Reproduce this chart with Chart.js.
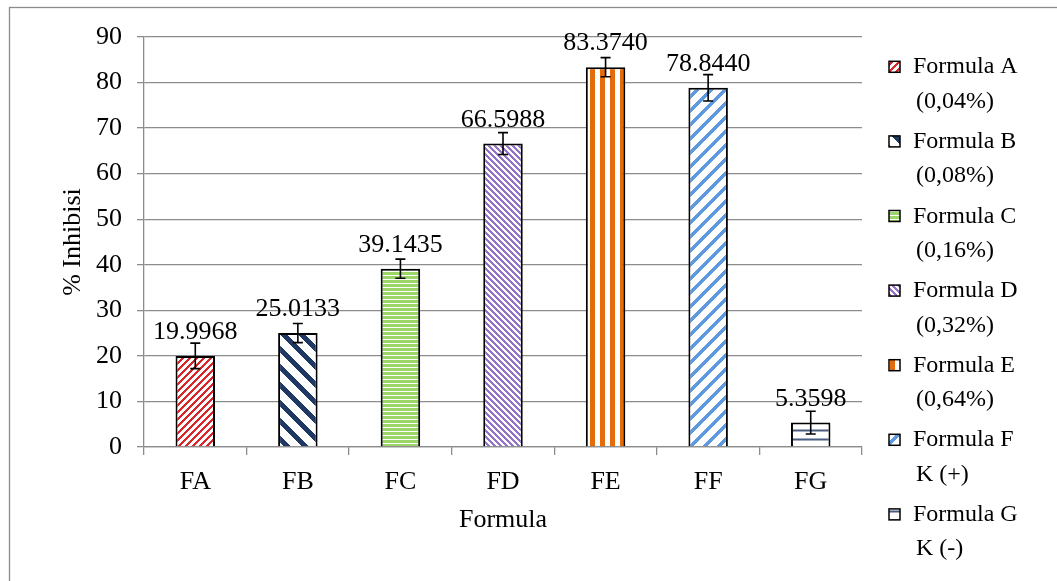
<!DOCTYPE html>
<html>
<head>
<meta charset="utf-8">
<script src="https://cdn.jsdelivr.net/npm/chart.js@4.4.1/dist/chart.umd.min.js"></script>
<style>
    html, body { margin: 0; padding: 0; background: #fff; }
    #wrap { position: relative; width: 1057px; height: 581px; }
</style>
</head>
<body>
<div id="wrap"><canvas id="inhibisi" width="1057" height="581"></canvas></div>
<script>
var categories = ['FA', 'FB', 'FC', 'FD', 'FE', 'FF', 'FG'];
var inhibisiValues = [19.9968, 25.0133, 39.1435, 66.5988, 83.3740, 78.8440, 5.3598];
var errorValues = [2.8, 2.1, 2.1, 2.4, 2.1, 2.9, 2.5];
var valueLabels = ['19.9968', '25.0133', '39.1435', '66.5988', '83.3740', '78.8440', '5.3598'];
var legendNames = ['Formula A', 'Formula B', 'Formula C', 'Formula D', 'Formula E', 'Formula F', 'Formula G'];
var legendNotes = ['(0,04%)', '(0,08%)', '(0,16%)', '(0,32%)', '(0,64%)', 'K (+)', 'K (-)'];

var serif = "'Liberation Serif', 'Times New Roman', serif";
var gridGray = '#8c8c8c';

// hatch fills, one per formula
function makeTile(w, h, draw) {
    var c = document.createElement('canvas');
    c.width = w;
    c.height = h;
    var g = c.getContext('2d');
    g.fillStyle = '#fff';
    g.fillRect(0, 0, w, h);
    draw(g, w, h);
    return c;
}

// pixel-stepped diagonal stripes so the tile wraps cleanly
function diag(color, n, w, up) {
    return makeTile(n, n, function (g) {
        g.fillStyle = color;
        for (var y = 0; y < n; y++) {
            for (var x = 0; x < n; x++) {
                var d = up ? (x + y) % n : ((x - y) % n + n) % n;
                if (d < w) g.fillRect(x, y, 1, 1);
            }
        }
    });
}

var tiles = [
    diag('#d9262b', 7, 3, true),
    diag('#1f3864', 18, 7, false),
    makeTile(4, 4, function (g) { g.fillStyle = '#9bd467'; g.fillRect(0, 0, 4, 3); }),
    diag('#9473c9', 6, 3, false),
    makeTile(10, 10, function (g) { g.fillStyle = '#e46c0a'; g.fillRect(0, 0, 5, 10); }),
    diag('#5f9ae0', 14, 5, true),
    makeTile(9, 9, function (g) { g.fillStyle = '#4a5d80'; g.fillRect(0, 6.5, 9, 2); })
];

var ctx = document.getElementById('inhibisi').getContext('2d');
var patterns = tiles.map(function (t) { return ctx.createPattern(t, 'repeat'); });

var errorBarsPlugin = {
    id: 'errorBars',
    afterDatasetsDraw: function (chart) {
        var c = chart.ctx;
        var y = chart.scales.y;
        var meta = chart.getDatasetMeta(0);
        c.save();
        c.strokeStyle = '#000';
        c.lineWidth = 1.6;
        meta.data.forEach(function (bar, i) {
            var top = y.getPixelForValue(inhibisiValues[i] + errorValues[i]);
            var bot = y.getPixelForValue(inhibisiValues[i] - errorValues[i]);
            c.beginPath();
            c.moveTo(bar.x, top);
            c.lineTo(bar.x, bot);
            c.moveTo(bar.x - 5, top);
            c.lineTo(bar.x + 5, top);
            c.moveTo(bar.x - 5, bot);
            c.lineTo(bar.x + 5, bot);
            c.stroke();
        });
        // value labels above the bars
        c.fillStyle = '#000';
        c.font = '26px ' + serif;
        c.textAlign = 'center';
        c.textBaseline = 'alphabetic';
        meta.data.forEach(function (bar, i) {
            c.fillText(valueLabels[i], bar.x, bar.y - 17);
        });
        c.restore();
    }
};

var sideLegendPlugin = {
    id: 'sideLegend',
    afterDraw: function (chart) {
        var c = chart.ctx;
        c.save();
        c.font = '24px ' + serif;
        c.textBaseline = 'alphabetic';
        c.textAlign = 'left';
        legendNames.forEach(function (name, i) {
            var base = 73.3 + i * 74.6;
            c.fillStyle = patterns[i];
            c.fillRect(889, base - 12, 11, 11);
            c.strokeStyle = '#000';
            c.lineWidth = 1.5;
            c.strokeRect(889, base - 12, 11, 11);
            c.fillStyle = '#000';
            c.fillText(name, 913, base);
            c.fillText(legendNotes[i], 916, base + 34.5);
        });
        // outer frame of the chart
        c.strokeStyle = gridGray;
        c.lineWidth = 1.3;
        c.strokeRect(9.5, 7.5, 1100, 620);
        c.restore();
    }
};

Chart.defaults.font.family = serif;
Chart.defaults.color = '#000';

new Chart(ctx, {
    type: 'bar',
    data: {
        labels: categories,
        datasets: [{
            data: inhibisiValues,
            backgroundColor: patterns,
            borderColor: '#000',
            borderWidth: 2,
            barPercentage: 0.385,
            categoryPercentage: 1
        }]
    },
    options: {
        responsive: false,
        animation: false,
        layout: { padding: { top: 37, right: 195, bottom: 0, left: 0 } },
        plugins: {
            legend: { display: false },
            tooltip: { enabled: false }
        },
        scales: {
            x: {
                afterFit: function (s) { s.height = 134; },
                grid: {
                    offset: true,
                    drawOnChartArea: false,
                    drawTicks: true,
                    tickLength: 8,
                    color: gridGray,
                    lineWidth: 1.3
                },
                border: { color: gridGray, width: 1.3 },
                ticks: { padding: 12, font: { size: 26 } },
                title: {
                    display: true,
                    text: 'Formula',
                    font: { size: 26 },
                    padding: { top: 0, bottom: 45 }
                }
            },
            y: {
                min: 0,
                max: 90,
                afterFit: function (s) { s.width = 144; },
                grid: {
                    color: gridGray,
                    lineWidth: 1.3,
                    tickLength: 7
                },
                border: { color: gridGray, width: 1.3 },
                ticks: { stepSize: 10, padding: 15, font: { size: 26 } },
                title: {
                    display: true,
                    text: '% Inhibisi',
                    font: { size: 26 },
                    padding: { top: 58, bottom: 0 }
                }
            }
        }
    },
    plugins: [errorBarsPlugin, sideLegendPlugin]
});
</script>
</body>
</html>
